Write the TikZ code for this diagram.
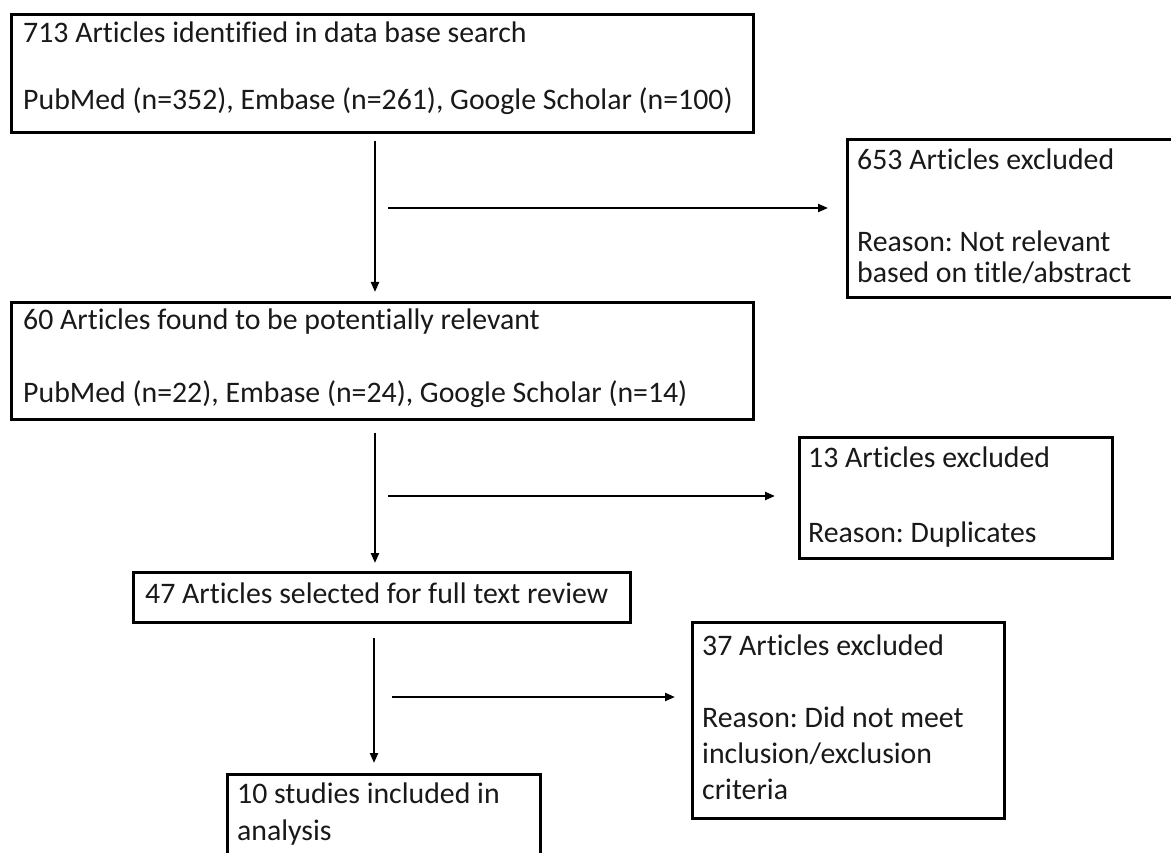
\documentclass[tikz,border=0pt]{standalone}
\usepackage{fontspec}
\setmainfont{Carlito}[Ligatures=NoCommon]
\usetikzlibrary{arrows.meta}
\frenchspacing
\tikzset{
  box/.style={draw, line width=2.6pt, inner sep=0pt, anchor=north west},
  ln/.style={anchor=base west, inner sep=0pt, font=\fontsize{29.8}{34}\selectfont, text=black!90},
  arr/.style={line width=2.2pt, -{Triangle[length=10pt,width=8pt]}}
}
\begin{document}
\begin{tikzpicture}[x=1pt,y=-1pt]
\clip (0,0) rectangle (1171,853);
\fill[white] (0,0) rectangle (1171,853);
% boxes
\node[box, minimum width=742pt, minimum height=118pt] (b1) at (10,13) {};
\node[box, minimum width=329pt, minimum height=158pt] (b653) at (846,138) {};
\node[box, minimum width=742pt, minimum height=117pt] (b2) at (10,301) {};
\node[box, minimum width=313pt, minimum height=121pt] (b13) at (798,436) {};
\node[box, minimum width=497pt, minimum height=50pt] (b47) at (132,571) {};
\node[box, minimum width=312pt, minimum height=196pt] (b37) at (691,621) {};
\node[box, minimum width=313pt, minimum height=100pt] (b10) at (226,773) {};
% texts
\node[ln] (t1a) at (23,43) {713 Articles identified in data base search};
\node[ln] (t1b) at (23,110) {PubMed (n=352), Embase (n=261), Google Scholar (n=100)};
\node[ln] (t653a) at (857,170) {653 Articles excluded};
\node[ln] (t653b) at (857,252) {Reason: Not relevant};
\node[ln] (t653c) at (857,283) {based on title/abstract};
\node[ln] (t2a) at (23,330) {60 Articles found to be potentially relevant};
\node[ln] (t2b) at (23,402) {PubMed (n=22), Embase (n=24), Google Scholar (n=14)};
\node[ln] (t13a) at (808,467) {13 Articles excluded};
\node[ln] (t13b) at (808,542) {Reason: Duplicates};
\node[ln] (t47) at (145,603) {47 Articles selected for full text review};
\node[ln] (t37a) at (702,655) {37 Articles excluded};
\node[ln] (t37b) at (702,727) {Reason: Did not meet};
\node[ln] (t37c) at (702,763) {inclusion/exclusion};
\node[ln] (t37d) at (702,799) {criteria};
\node[ln] (t10a) at (237,803) {10 studies included in};
\node[ln] (t10b) at (237,840) {analysis};
% connectors
\coordinate (v1) at (375,0);
\coordinate (v3) at (374,0);
\coordinate (h1) at (388,208);
\coordinate (h2) at (388,496);
\coordinate (h3) at (392,697);
\draw[arr, shorten <=7pt, shorten >=9pt] (b1.south -| v1) -- (b2.north -| v1);
\draw[arr, shorten <=12pt, shorten >=8pt] (b2.south -| v1) -- (b47.north -| v1);
\draw[arr, shorten <=14pt, shorten >=10pt] (b47.south -| v3) -- (b10.north -| v3);
\draw[arr, shorten >=18pt] (h1) -- (h1 -| b653.west);
\draw[arr, shorten >=23pt] (h2) -- (h2 -| b13.west);
\draw[arr, shorten >=16pt] (h3) -- (h3 -| b37.west);
\end{tikzpicture}
\end{document}
